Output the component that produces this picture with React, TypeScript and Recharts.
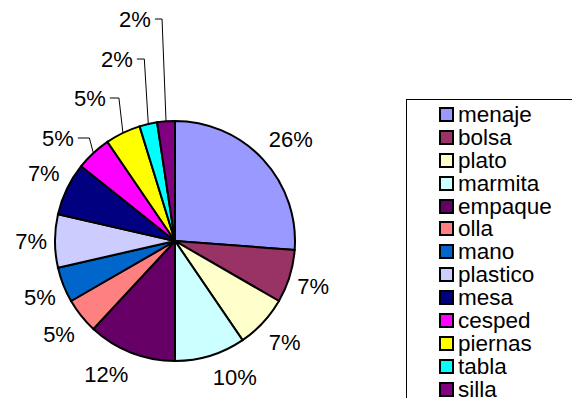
import { Cell, Legend, Pie, PieChart } from 'recharts';

const CATEGORIES = [
  'menaje', 'bolsa', 'plato', 'marmita', 'empaque', 'olla', 'mano',
  'plastico', 'mesa', 'cesped', 'piernas', 'tabla', 'silla',
];
const COUNTS = [11, 3, 3, 4, 5, 2, 2, 3, 3, 2, 2, 1, 1];
const COLORS = [
  '#9999FF', '#993366', '#FFFFCC', '#CCFFFF', '#660066', '#FF8080', '#0066CC',
  '#CCCCFF', '#000080', '#FF00FF', '#FFFF00', '#00FFFF', '#800080',
];

// small slices whose labels were pushed up and tied back with a leader line
// (offset of the label centre from the pie centre)
const LEADER_LABELS: Record<string, [number, number]> = {
  cesped: [-117, -103],
  piernas: [-85, -143],
  tabla: [-58, -182],
  silla: [-40, -222],
};

const data = CATEGORIES.map((name, i) => ({ name, value: COUNTS[i] }));

const RADIAN = Math.PI / 180;
const FONT = '"Liberation Sans", Arial, sans-serif';
const FONT_SIZE = 22;

const textWidth = (text: string) =>
  text.split('').reduce((sum, ch) => sum + (ch === '%' ? 0.889 : 0.556), 0) * FONT_SIZE;

const renderLabel = (props: any) => {
  const { cx, cy, midAngle, outerRadius, percent, index } = props;
  const text = `${Math.round(percent * 100)}%`;
  const cos = Math.cos(-midAngle * RADIAN);
  const sin = Math.sin(-midAngle * RADIAN);
  const ex = cx + outerRadius * cos;
  const ey = cy + outerRadius * sin;
  const w = textWidth(text);
  const leader = LEADER_LABELS[CATEGORIES[index]];

  if (leader) {
    const tx = cx + leader[0];
    const ty = cy + leader[1];
    const startX = tx + w / 2 + 4;
    return (
      <g key={`label-${index}`}>
        <text x={tx} y={ty} textAnchor="middle" dominantBaseline="central"
          fontFamily={FONT} fontSize={FONT_SIZE} fill="#000">
          {text}
        </text>
        <polyline
          points={`${startX},${ty} ${ex - 4},${ty} ${ex},${ey}`}
          fill="none"
          stroke="#000"
          strokeWidth={1}
        />
      </g>
    );
  }

  const gap = 8;
  const tx = ex + gap * cos + Math.sign(cos) * (w / 2);
  const ty = ey + gap * sin + Math.sign(sin) * 14 * Math.min(1, Math.abs(sin) / 0.5);
  return (
    <text key={`label-${index}`} x={tx} y={ty} textAnchor="middle" dominantBaseline="central"
      fontFamily={FONT} fontSize={FONT_SIZE} fill="#000">
      {text}
    </text>
  );
};

const LegendBox = () => (
  <div
    style={{
      borderLeft: '1px solid #000',
      borderTop: '1px solid #000',
      paddingTop: 3,
      boxSizing: 'border-box',
      height: '100%',
      background: '#fff',
    }}
  >
    {CATEGORIES.map((name, i) => (
      <div
        key={name}
        style={{ display: 'flex', alignItems: 'center', height: 22.9, paddingLeft: 32 }}
      >
        <span
          style={{
            width: 15,
            height: 15,
            boxSizing: 'border-box',
            border: '2px solid #000',
            background: COLORS[i],
            marginRight: 4,
            flex: 'none',
          }}
        />
        <span style={{ fontFamily: FONT, fontSize: 22.5, lineHeight: '23px', color: '#000' }}>
          {name}
        </span>
      </div>
    ))}
  </div>
);

export default function App() {
  return (
    <div style={{ margin: -8, width: 580, height: 406, overflow: 'hidden', background: '#fff' }}>
      <PieChart width={580} height={406} margin={{ top: 0, right: 0, bottom: 0, left: 0 }}>
        <Pie
          data={data}
          dataKey="value"
          nameKey="name"
          cx={175}
          cy={241}
          outerRadius={120}
          startAngle={90}
          endAngle={-270}
          stroke="#000"
          strokeWidth={2}
          label={renderLabel}
          labelLine={false}
          isAnimationActive={false}
        >
          {data.map((entry, i) => (
            <Cell key={entry.name} fill={COLORS[i]} />
          ))}
        </Pie>
        <Legend
          layout="vertical"
          align="right"
          verticalAlign="middle"
          content={() => <LegendBox />}
          wrapperStyle={{ left: 406, top: 99, width: 200, height: 330 }}
        />
      </PieChart>
    </div>
  );
}
